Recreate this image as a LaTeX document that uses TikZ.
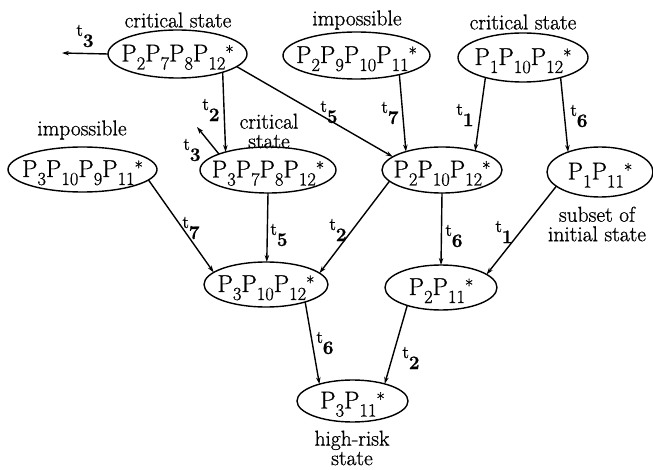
\documentclass[tikz,border=0pt]{standalone}
\usepackage{fontspec}
\setmainfont{Latin Modern Roman}[FakeBold=0.9]
\usetikzlibrary{shapes.geometric,arrows.meta}
\newcommand{\pp}[1]{P\raisebox{-8pt}{\fontsize{18.5}{18}\selectfont #1}}
\newcommand{\pst}{\raisebox{3pt}{\fontsize{18}{18}\selectfont *}}
\newcommand{\stt}[1]{\makebox[0pt]{\raisebox{-7.5pt}[0pt][0pt]{\fontsize{24.5}{24}\selectfont #1}}}
\newcommand{\tlab}[1]{{\fontsize{18}{18}\selectfont t}\raisebox{-11pt}{\fontsize{19}{19}\selectfont\bfseries #1}}
\begin{document}
\begin{tikzpicture}[x=1pt,y=-1pt,
  st/.style={ellipse, draw, line width=1.4pt, inner sep=0pt, outer sep=0pt},
  lab/.style={font=\fontsize{21.5}{19.5}\selectfont, align=center, inner sep=0pt},
  arr/.style={-{Stealth[length=7pt,width=4.5pt]}, line width=1.4pt},
  tl/.style={inner sep=0pt}]
\useasboundingbox (0,0) rectangle (653,470);
% states
\node[st,minimum width=139,minimum height=48] (A) at (177.5,54) {\stt{\pp{2}\pp{7}\pp{8}\pp{12}\pst}};
\node[st,minimum width=147,minimum height=47] (B) at (356.5,55.5) {\stt{\pp{2}\pp{9}\pp{10}\pp{11}\pst}};
\node[st,minimum width=130,minimum height=49] (C) at (523,57.5) {\stt{\pp{1}\pp{10}\pp{12}\pst}};
\node[st,minimum width=149,minimum height=45] (D) at (82.5,169.5) {\stt{\pp{3}\pp{10}\pp{9}\pp{11}\pst}};
\node[st,minimum width=136,minimum height=46] (E) at (268,170) {\stt{\pp{3}\pp{7}\pp{8}\pp{12}\pst}};
\node[st,minimum width=120,minimum height=46] (F) at (442,170) {\stt{\pp{2}\pp{10}\pp{12}\pst}};
\node[st,minimum width=106,minimum height=50] (G) at (600,172) {\stt{\pp{1}\pp{11}\pst}};
\node[st,minimum width=124,minimum height=45] (H) at (266,284.5) {\stt{\pp{3}\pp{10}\pp{12}\pst}};
\node[st,minimum width=112,minimum height=45] (I) at (441,287.5) {\stt{\pp{2}\pp{11}\pst}};
\node[st,minimum width=111,minimum height=42] (J) at (352.5,401) {\stt{\pp{3}\pp{11}\pst}};
% labels
\node[lab] (lA) at (178,20) {critical state};
\node[lab] (lB) at (357,20) {impossible};
\node[lab] (lC) at (523,22) {critical state};
\node[lab] (lD) at (82,130) {impossible};
\node[lab] (lE) at (269,131) {critical\\state};
\node[lab] (lG) at (597,224) {subset of\\initial state};
\node[lab] (lJ) at (352,448) {high-risk\\state};
% free ends
\coordinate (a3) at (62,53);
\coordinate (e3) at (197,127);
% connectors
\draw[arr] (A.180) -- (a3);
\draw[arr] (A.-22) -- (E.157);
\draw[arr] (A.-12) -- (F.165);
\draw[arr] (B.-24) -- (F.153);
\draw[arr] (C.208) -- (F.30);
\draw[arr] (C.-28) -- (G.148);
\draw[arr] (E.162) -- (e3);
\draw[arr] (D.-9) -- (H.167);
\draw[arr] (E.-90) -- (H.88);
\draw[arr] (F.192) -- (H.12);
\draw[arr] (F.-90) -- (I.90);
\draw[arr] (G.198) -- (I.16);
\draw[arr] (H.-24) -- (J.153);
\draw[arr] (I.208) -- (J.28);
% transition labels
\node[tl] (t1) at (85,36) {\tlab{3}};
\node[tl] (t2) at (211,110) {\tlab{2}};
\node[tl] (t3) at (329,112) {\tlab{5}};
\node[tl] (t4) at (390,113) {\tlab{7}};
\node[tl] (t5) at (465,115) {\tlab{1}};
\node[tl] (t6) at (579,116) {\tlab{6}};
\node[tl] (t7) at (192,150) {\tlab{3}};
\node[tl] (t8) at (191,228) {\tlab{7}};
\node[tl] (t9) at (279,235) {\tlab{5}};
\node[tl] (t10) at (338,230) {\tlab{2}};
\node[tl] (t11) at (454,236) {\tlab{6}};
\node[tl] (t12) at (504,232) {\tlab{1}};
\node[tl] (t13) at (325,343) {\tlab{6}};
\node[tl] (t14) at (411,358) {\tlab{2}};
\end{tikzpicture}
\end{document}
